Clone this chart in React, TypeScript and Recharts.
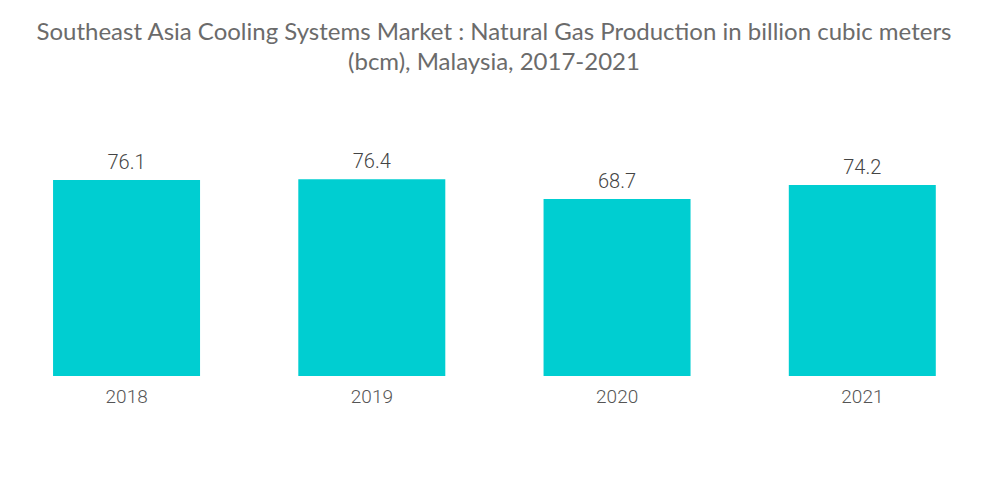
import React from 'react';
import { BarChart, Bar, XAxis, YAxis, LabelList } from 'recharts';

const years = ['2018', '2019', '2020', '2021'];
const production = [76.1, 76.4, 68.7, 74.2];

const data = years.map((year, i) => ({ year, value: production[i] }));

const App: React.FC = () => {
  return (
    <div style={{ position: 'relative', width: 1000, height: 504, margin: -8, background: '#fff' }}>
      <div
        style={{
          position: 'absolute',
          top: 16,
          left: 0,
          width: 988,
          textAlign: 'center',
          fontFamily: 'Lato, sans-serif',
          fontSize: 24,
          lineHeight: '30px',
          color: '#6b6b6b',
        }}
      >
        Southeast Asia Cooling Systems Market : Natural Gas Production in billion cubic meters
        <br />
        (bcm), Malaysia, 2017-2021
      </div>
      <BarChart
        width={1000}
        height={504}
        data={data}
        margin={{ top: 170, right: 15, left: 4, bottom: 98 }}
        barCategoryGap="20%"
      >
        <XAxis
          dataKey="year"
          axisLine={false}
          tickLine={false}
          height={30}
          tick={{ fill: '#555', fontSize: 19, fontFamily: 'Roboto, sans-serif', fontWeight: 300 }}
          dy={6}
        />
        <YAxis hide domain={[0, 80]} />
        <Bar dataKey="value" fill="#00CED1" isAnimationActive={false}>
          <LabelList
            dataKey="value"
            position="top"
            offset={11}
            style={{ fill: '#444', fontSize: 20, fontFamily: 'Roboto, sans-serif', fontWeight: 300 }}
          />
        </Bar>
      </BarChart>
    </div>
  );
};

export default App;
